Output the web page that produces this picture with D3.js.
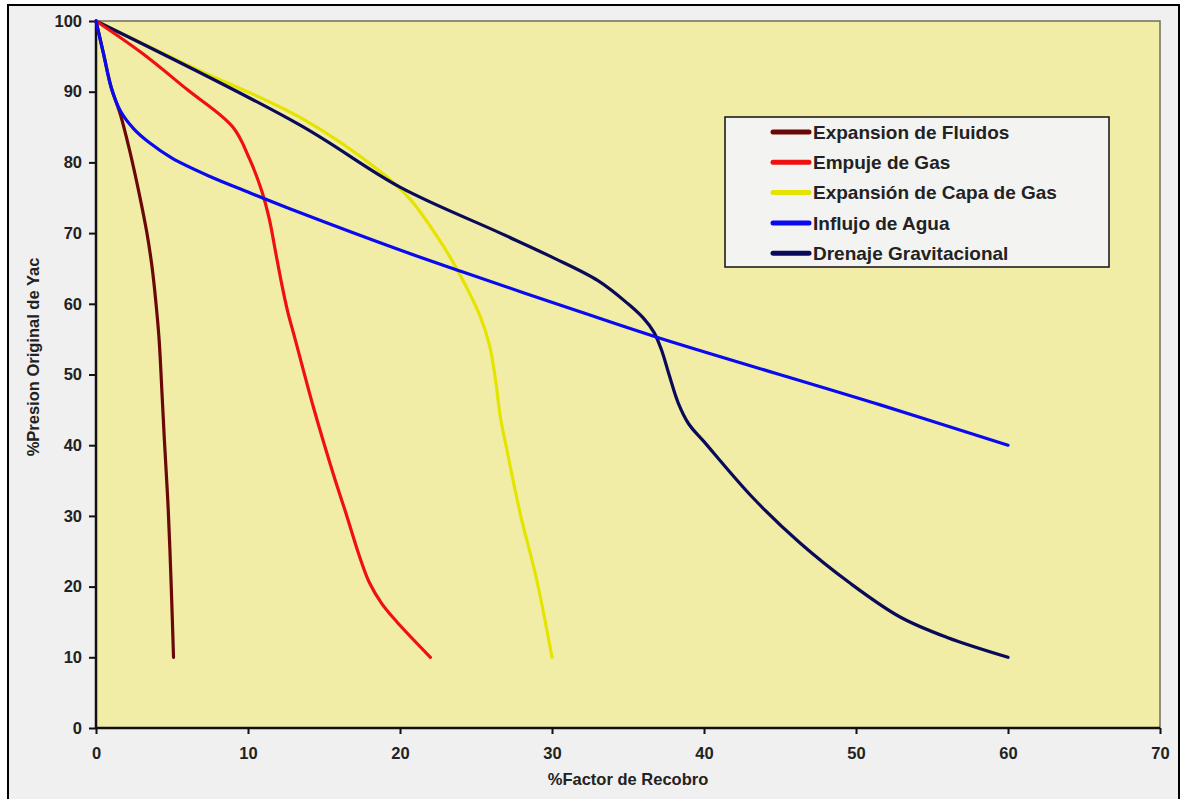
<!DOCTYPE html>
<html>
<head>
<meta charset="utf-8">
<script src="https://cdn.jsdelivr.net/npm/d3@7"></script>
<style>
  html, body { margin: 0; padding: 0; background: #ffffff; }
  svg { display: block; }
  text { font-family: "Liberation Sans", Arial, sans-serif; }
</style>
</head>
<body>
<svg id="chart" width="1182" height="799"></svg>
<script>
// Recovery factor (%) vs. percent of original reservoir pressure, by drive mechanism
const seriesNames = [
  "Expansion de Fluidos",
  "Empuje de Gas",
  "Expansión de Capa de Gas",
  "Influjo de Agua",
  "Drenaje Gravitacional"
];
const seriesColors = ["#6a0808", "#f01010", "#e4e400", "#0a0af0", "#0a0a5a"];

const expansionFluidosX = [0, 0.5, 1.0, 1.6, 2.2, 2.8, 3.35, 3.7, 3.95, 4.15, 4.35, 4.5, 4.75, 4.95, 5.1];
const expansionFluidosY = [100, 95.3, 90.6, 86.8, 81.8, 76, 70, 65, 60, 55, 47, 40.7, 31, 20, 10];

const empujeGasX = [0, 3, 6, 9, 10.1, 10.9, 11.4, 11.8, 12.2, 12.6, 13.1, 14.3, 15.6, 16.5, 17.3, 18.0, 18.8, 19.8, 22];
const empujeGasY = [100, 95.5, 90.3, 85, 80.5, 76, 72, 67.5, 63, 59, 55, 45.4, 36, 30, 24.5, 20.5, 17.6, 15, 10];

const capaGasX = [0, 6, 13.4, 18.7, 20.7, 22.6, 23.9, 25.3, 25.9, 26.3, 26.6, 27.0, 27.9, 29.0, 30];
const capaGasY = [100, 93.8, 86.4, 78.7, 74.7, 69, 64.3, 58.1, 54, 49, 44, 39.7, 30.4, 20.9, 10];

const influjoAguaX = [0, 0.5, 1.0, 1.6, 2.5, 3.5, 5, 7.5, 10, 13.4, 20, 24, 31.8, 37, 51.6, 60];
const influjoAguaY = [100, 95.3, 90.6, 87.3, 84.7, 82.8, 80.6, 78, 75.8, 72.9, 67.6, 64.6, 58.9, 55.2, 45.7, 40];

const drenajeX = [0, 13.4, 20, 26.6, 30, 33, 35, 36, 36.7, 37.2, 37.7, 38.3, 39, 40, 43.2, 46.3, 49.6, 52.9, 56, 60];
const drenajeY = [100, 85.3, 76.5, 70, 66.6, 63.3, 60, 58, 56, 53.5, 50, 46, 43, 40.5, 32.6, 26.2, 20.5, 15.7, 12.8, 10];

const xTicks = [0, 10, 20, 30, 40, 50, 60, 70];
const yTicks = [0, 10, 20, 30, 40, 50, 60, 70, 80, 90, 100];

const seriesX = [expansionFluidosX, empujeGasX, capaGasX, influjoAguaX, drenajeX];
const seriesY = [expansionFluidosY, empujeGasY, capaGasY, influjoAguaY, drenajeY];

const series = seriesNames.map((name, i) => ({
  name,
  color: seriesColors[i],
  points: seriesX[i].map((x, j) => ({ x, y: seriesY[i][j] }))
}));

const svg = d3.select("#chart");
const W = 1182, H = 799;
const plot = { left: 96, right: 1160, top: 21, bottom: 728 };

// page frame
svg.append("rect").attr("x", 0).attr("y", 0).attr("width", W).attr("height", H).attr("fill", "#ffffff");
svg.append("rect")
  .attr("x", 8).attr("y", 5).attr("width", 1171).attr("height", 800)
  .attr("fill", "#f0f0f0").attr("stroke", "#000").attr("stroke-width", 2);

const x = d3.scaleLinear().domain([0, 70]).range([plot.left, plot.right]);
const y = d3.scaleLinear().domain([0, 100]).range([plot.bottom, plot.top]);

// plot area
svg.append("rect")
  .attr("x", plot.left).attr("y", plot.top)
  .attr("width", plot.right - plot.left).attr("height", plot.bottom - plot.top)
  .attr("fill", "#f1eda6")
  .attr("stroke", "#6f6f5a").attr("stroke-width", 1.5);

// axes
const xAxis = d3.axisBottom(x).tickValues(xTicks).tickSize(6).tickPadding(13);
const yAxis = d3.axisLeft(y).tickValues(yTicks).tickSize(7).tickPadding(7);

const gx = svg.append("g").attr("transform", `translate(0,${plot.bottom})`).call(xAxis);
const gy = svg.append("g").attr("transform", `translate(${plot.left},0)`).call(yAxis);

[gx, gy].forEach(g => {
  g.attr("font-size", null).attr("font-family", null);
  g.select(".domain").attr("stroke", "#111").attr("stroke-width", 2.5);
  g.selectAll(".tick line").attr("stroke", "#111").attr("stroke-width", 2);
  g.selectAll(".tick text")
    .attr("fill", "#222")
    .style("font-family", "'Liberation Sans', Arial, sans-serif")
    .style("font-size", "16.5px")
    .style("font-weight", "bold");
});
gx.select(".domain").attr("d", `M${plot.left},0H${plot.right}`);
gy.select(".domain").attr("d", `M0,${plot.bottom}V${plot.top}`);

// axis titles
svg.append("text")
  .attr("x", 628).attr("y", 785)
  .attr("text-anchor", "middle")
  .attr("fill", "#222")
  .style("font-size", "16.5px").style("font-weight", "bold")
  .text("%Factor de Recobro");

svg.append("text")
  .attr("transform", `translate(39,357) rotate(-90)`)
  .attr("text-anchor", "middle")
  .attr("fill", "#222")
  .style("font-size", "16.5px").style("font-weight", "bold")
  .text("%Presion Original de Yac");

// curves
const line = d3.line()
  .x(d => x(d.x))
  .y(d => y(d.y))
  .curve(d3.curveCatmullRom.alpha(0.5));

const drawOrder = [2, 4, 0, 1, 3];
svg.append("g").selectAll("path")
  .data(drawOrder.map(i => series[i]))
  .join("path")
  .attr("d", d => line(d.points))
  .attr("fill", "none")
  .attr("stroke", d => d.color)
  .attr("stroke-width", 3.2)
  .attr("stroke-linecap", "round")
  .attr("stroke-linejoin", "round");

// legend
const legend = svg.append("g");
legend.append("rect")
  .attr("x", 725).attr("y", 117).attr("width", 384).attr("height", 150)
  .attr("fill", "#f3f3f1").attr("stroke", "#111").attr("stroke-width", 1.5);

const rows = legend.selectAll("g.row")
  .data(series)
  .join("g")
  .attr("class", "row")
  .attr("transform", (d, i) => `translate(0,${132 + i * 30.3})`);

rows.append("line")
  .attr("x1", 773).attr("x2", 809).attr("y1", 0).attr("y2", 0)
  .attr("stroke", d => d.color).attr("stroke-width", 5)
  .attr("stroke-linecap", "round");

rows.append("text")
  .attr("x", 813).attr("y", 0).attr("dy", "0.35em")
  .attr("fill", "#222")
  .style("font-size", "19px").style("font-weight", "bold")
  .text(d => d.name);
</script>
</body>
</html>
